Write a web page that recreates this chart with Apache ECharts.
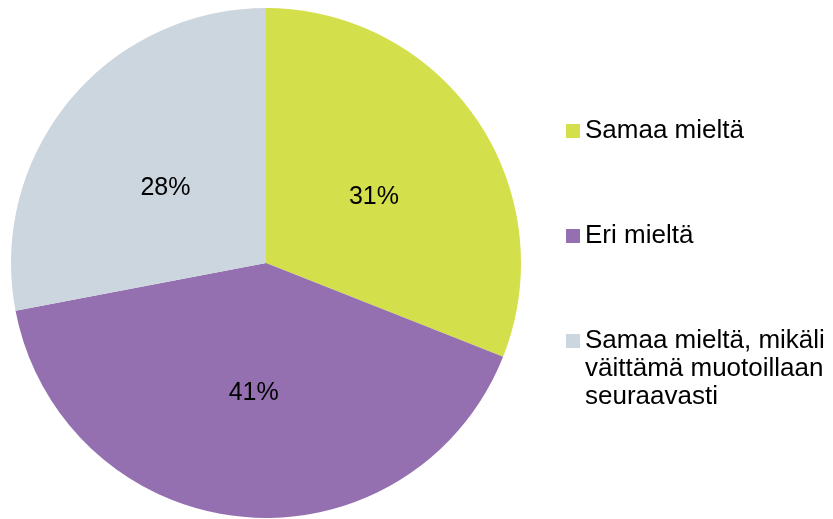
<!DOCTYPE html>
<html>
<head>
<meta charset="utf-8">
<script src="https://cdn.jsdelivr.net/npm/echarts@6/dist/echarts.min.js"></script>
<style>
  html, body { margin: 0; padding: 0; background: #fff; }
  #chart { width: 833px; height: 519px; }
</style>
</head>
<body>
<div id="chart"></div>
<script>
const categories = [
  "Samaa mieltä",
  "Eri mieltä",
  "Samaa mieltä, mikäli\nväittämä muotoillaan\nseuraavasti"
];
const values = [31, 41, 28];
const colors = ["#d4df4c", "#9470b0", "#ccd6df"];

const chart = echarts.init(document.getElementById("chart"));

// small nudges so the labels sit where the original placed them
const labelNudge = [[0, 7], [0, 0], [0, 8]];

let data = [];
for (let i = 0; i < categories.length; i++) {
  data.push({
    name: categories[i],
    value: values[i],
    label: { offset: labelNudge[i] }
  });
}

// one legend per item so the gaps can follow the reference
const legendTops = [117, 222, 271];
let legends = [];
for (let i = 0; i < categories.length; i++) {
  legends.push({
    orient: "vertical",
    left: 566,
    top: legendTops[i],
    data: [categories[i]],
    icon: "rect",
    itemWidth: 14,
    itemHeight: 14,
    itemGap: 0,
    padding: 0,
    // the long entry gets two blank lines so its first line sits by the box
    formatter: function(name) {
      return i === 2 ? "\n\n" + name : name;
    },
    textStyle: {
      fontFamily: "Liberation Sans",
      fontSize: 26,
      lineHeight: 28,
      color: "#000"
    }
  });
}

const option = {
  animation: false,
  color: colors,
  legend: legends,
  series: [
    {
      type: "pie",
      center: [266, 263],
      radius: 255,
      startAngle: 90,
      clockwise: true,
      label: {
        show: true,
        position: "inside",
        formatter: "{c}%",
        fontFamily: "Liberation Sans",
        fontSize: 25,
        color: "#000"
      },
      labelLine: { show: false },
      emphasis: { scale: false },
      itemStyle: { borderWidth: 0 },
      data: data
    }
  ]
};

chart.setOption(option);
window.onresize = function() {
  chart.resize();
};
</script>
</body>
</html>
